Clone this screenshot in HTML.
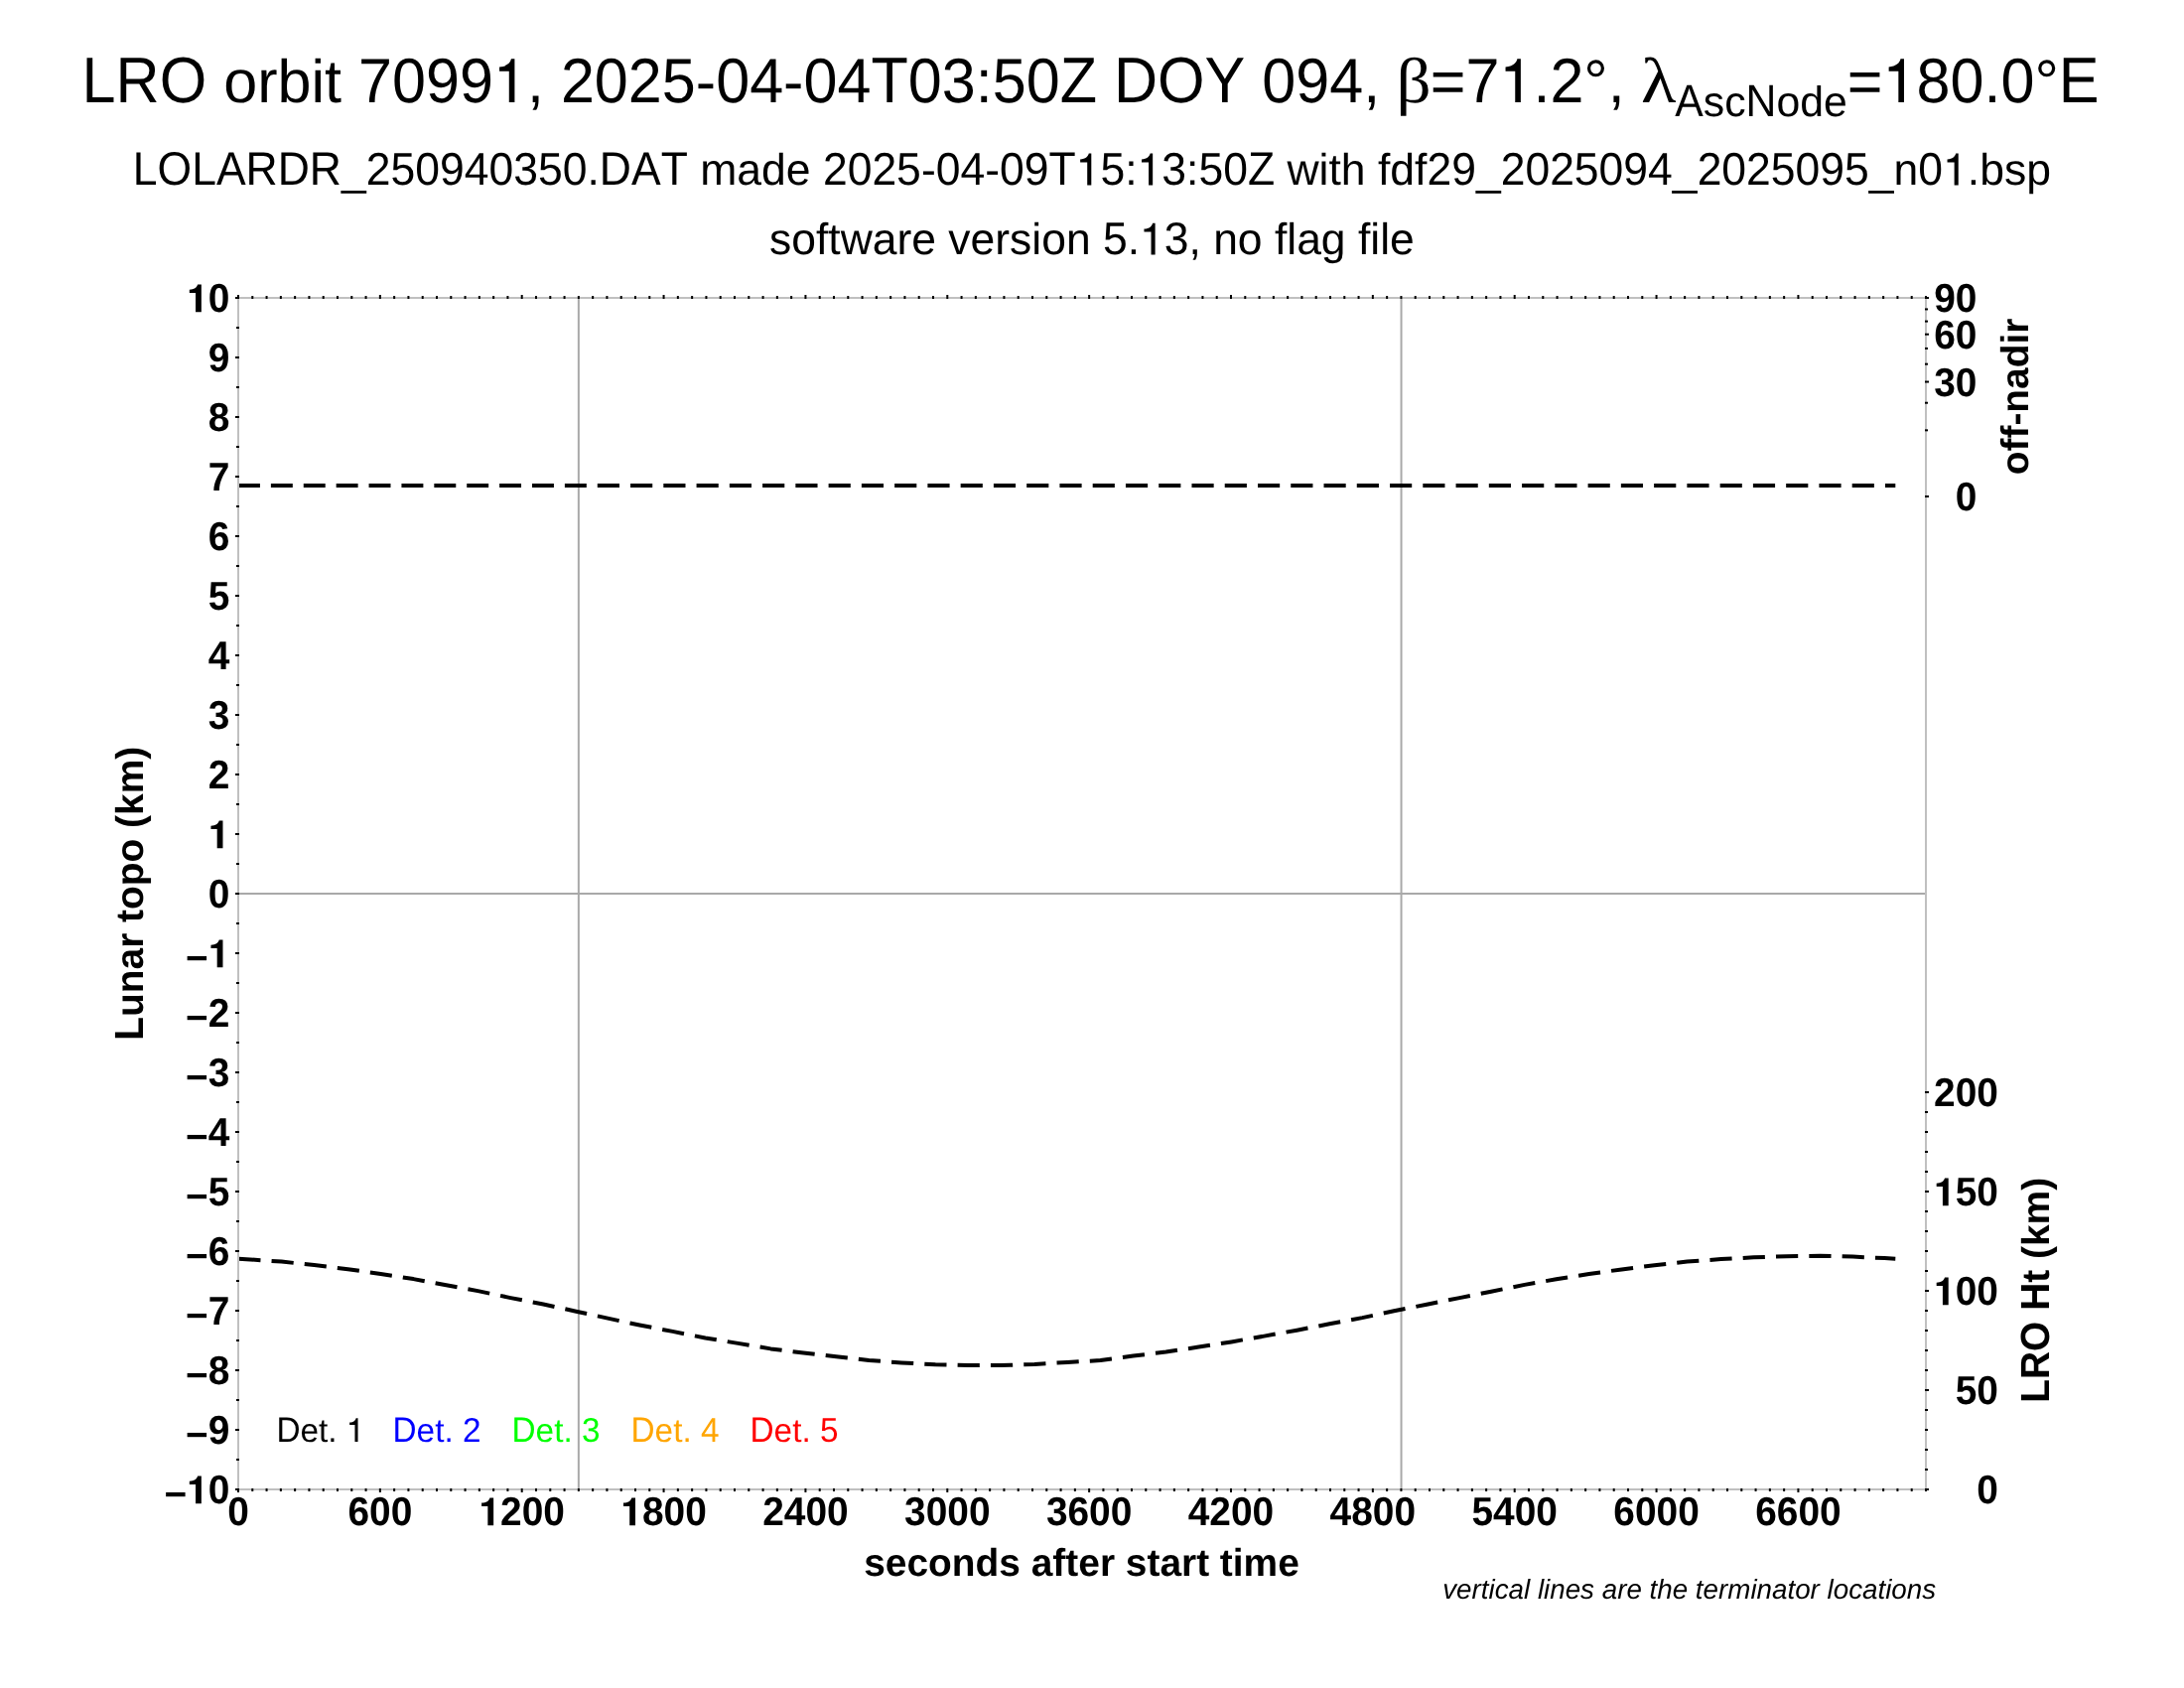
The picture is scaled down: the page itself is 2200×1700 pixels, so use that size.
<!DOCTYPE html>
<html lang="en"><head><meta charset="utf-8"><title>LRO orbit 70991</title>
<style>
html,body{margin:0;padding:0;background:#fff;}
body{width:2200px;height:1700px;overflow:hidden;font-family:"Liberation Sans",sans-serif;}
svg{display:block;position:absolute;left:0;top:0;will-change:transform;}
text{font-family:"Liberation Sans",sans-serif;font-kerning:none;white-space:pre;text-rendering:geometricPrecision;font-variant-ligatures:none;letter-spacing:0;}
.sym{font-family:"Liberation Serif",serif;}
</style></head><body>
<svg width="2200" height="1700" viewBox="0 0 2200 1700">
<rect x="0" y="0" width="2200" height="1700" fill="#fff"/>
<g transform="translate(82.59,103.00) translate(0.00,0)" font-size="61.1"><text transform="translate(0.00,0) scale(1,1.065)">LRO</text><text x="125.63" y="0"> orbit </text><text transform="translate(278.44,0) scale(1,1.035)">7099</text><path transform="translate(414.36,0) scale(0.06110,-0.06110)" d="M259,0 L351,0 L351,715 L294,715 C282,650 222,590 100,583 L100,513 L259,513 Z"/><text x="448.35" y="0">, </text><text transform="translate(482.30,0) scale(1,1.035)">2025</text><text x="618.22" y="0">-</text><text transform="translate(638.57,0) scale(1,1.035)">04</text><text x="706.53" y="0">-</text><text transform="translate(726.88,0) scale(1,1.035)">04</text><text transform="translate(794.84,0) scale(1,1.065)">T</text><text transform="translate(832.16,0) scale(1,1.035)">03</text><text x="900.12" y="0">:</text><text transform="translate(917.10,0) scale(1,1.035)">50</text><text transform="translate(985.06,0) scale(1,1.065)">Z</text><text x="1022.38" y="0"> </text><text transform="translate(1039.36,0) scale(1,1.065)">DOY</text><text x="1171.76" y="0"> </text><text transform="translate(1188.74,0) scale(1,1.035)">094</text><text x="1290.68" y="0">, </text></g>
<text class="sym" font-size="61.1" transform="translate(1406.53,103.0) scale(1.1294,1.0513)">β</text>
<g transform="translate(1440.77,103.00) translate(0.00,0)" font-size="61.1"><text x="0.00" y="0">=</text><text transform="translate(35.68,0) scale(1,1.035)">7</text><path transform="translate(69.66,0) scale(0.06110,-0.06110)" d="M259,0 L351,0 L351,715 L294,715 C282,650 222,590 100,583 L100,513 L259,513 Z"/><text x="103.64" y="0">.</text><text transform="translate(120.62,0) scale(1,1.035)">2</text><text x="154.60" y="0">°, </text></g>
<text class="sym" font-size="61.1" transform="translate(1652.89,103.0) scale(1.1943,1.0582)">λ</text>
<g transform="translate(1687.29,117.00) translate(0.00,0)" font-size="42.769999999999996"><text transform="translate(0.00,0) scale(1,1.065)">A</text><text x="28.53" y="0">sc</text><text transform="translate(71.30,0) scale(1,1.065)">N</text><text x="102.18" y="0">ode</text></g>
<g transform="translate(1860.84,103.00) translate(0.00,0)" font-size="61.1"><text x="0.00" y="0">=</text><path transform="translate(35.68,0) scale(0.06110,-0.06110)" d="M259,0 L351,0 L351,715 L294,715 C282,650 222,590 100,583 L100,513 L259,513 Z"/><text transform="translate(69.66,0) scale(1,1.035)">80</text><text x="137.62" y="0">.</text><text transform="translate(154.60,0) scale(1,1.035)">0</text><text x="188.58" y="0">°</text><text transform="translate(213.01,0) scale(1,1.065)">E</text></g>
<g transform="translate(1099.90,186.40) translate(-966.05,0)" font-size="44.497"><text transform="translate(0.00,0) scale(1,1.065)">LOLARDR</text><text x="210.19" y="0">_</text><text transform="translate(234.93,0) scale(1,1.035)">250940350</text><text x="457.66" y="0">.</text><text transform="translate(470.02,0) scale(1,1.065)">DAT</text><text x="559.02" y="0"> made </text><text transform="translate(695.05,0) scale(1,1.035)">2025</text><text x="794.04" y="0">-</text><text transform="translate(808.85,0) scale(1,1.035)">04</text><text x="858.35" y="0">-</text><text transform="translate(873.17,0) scale(1,1.035)">09</text><text transform="translate(922.66,0) scale(1,1.065)">T</text><path transform="translate(949.84,0) scale(0.04450,-0.04450)" d="M259,0 L351,0 L351,715 L294,715 C282,650 222,590 100,583 L100,513 L259,513 Z"/><text transform="translate(974.59,0) scale(1,1.035)">5</text><text x="999.34" y="0">:</text><path transform="translate(1011.70,0) scale(0.04450,-0.04450)" d="M259,0 L351,0 L351,715 L294,715 C282,650 222,590 100,583 L100,513 L259,513 Z"/><text transform="translate(1036.45,0) scale(1,1.035)">3</text><text x="1061.19" y="0">:</text><text transform="translate(1073.56,0) scale(1,1.035)">50</text><text transform="translate(1123.05,0) scale(1,1.065)">Z</text><text x="1150.23" y="0"> with fdf</text><text transform="translate(1303.56,0) scale(1,1.035)">29</text><text x="1353.05" y="0">_</text><text transform="translate(1377.80,0) scale(1,1.035)">2025094</text><text x="1551.03" y="0">_</text><text transform="translate(1575.78,0) scale(1,1.035)">2025095</text><text x="1749.01" y="0">_n</text><text transform="translate(1798.50,0) scale(1,1.035)">0</text><path transform="translate(1823.25,0) scale(0.04450,-0.04450)" d="M259,0 L351,0 L351,715 L294,715 C282,650 222,590 100,583 L100,513 L259,513 Z"/><text x="1847.99" y="0">.bsp</text></g>
<g transform="translate(1099.90,256.40) translate(-324.84,0)" font-size="44.44"><text x="0.00" y="0">software version </text><text transform="translate(335.90,0) scale(1,1.035)">5</text><text x="360.62" y="0">.</text><path transform="translate(372.97,0) scale(0.04444,-0.04444)" d="M259,0 L351,0 L351,715 L294,715 C282,650 222,590 100,583 L100,513 L259,513 Z"/><text transform="translate(397.68,0) scale(1,1.035)">3</text><text x="422.40" y="0">, no flag file</text></g>
<g transform="translate(322.90,1452.00) translate(-44.46,0)" font-size="33.33" style="fill:#000000"><text transform="translate(0.00,0) scale(1,1.065)">D</text><text x="24.07" y="0">et. </text><path transform="translate(70.39,0) scale(0.03333,-0.03333)" d="M259,0 L351,0 L351,715 L294,715 C282,650 222,590 100,583 L100,513 L259,513 Z"/></g>
<g transform="translate(440.00,1452.00) translate(-44.46,0)" font-size="33.33" style="fill:#0000ff"><text transform="translate(0.00,0) scale(1,1.065)">D</text><text x="24.07" y="0">et. </text><text transform="translate(70.39,0) scale(1,1.035)">2</text></g>
<g transform="translate(560.00,1452.00) translate(-44.46,0)" font-size="33.33" style="fill:#00ff00"><text transform="translate(0.00,0) scale(1,1.065)">D</text><text x="24.07" y="0">et. </text><text transform="translate(70.39,0) scale(1,1.035)">3</text></g>
<g transform="translate(680.00,1452.00) translate(-44.46,0)" font-size="33.33" style="fill:#ffa500"><text transform="translate(0.00,0) scale(1,1.065)">D</text><text x="24.07" y="0">et. </text><text transform="translate(70.39,0) scale(1,1.035)">4</text></g>
<g transform="translate(800.00,1452.00) translate(-44.46,0)" font-size="33.33" style="fill:#ff0000"><text transform="translate(0.00,0) scale(1,1.065)">D</text><text x="24.07" y="0">et. </text><text transform="translate(70.39,0) scale(1,1.035)">5</text></g>
<g stroke="#a9a9a9" stroke-width="2" fill="none">
<line x1="240.0" y1="900" x2="1940.0" y2="900"/>
<line x1="582.86" y1="300.0" x2="582.86" y2="1500.0"/>
<line x1="1411.55" y1="300.0" x2="1411.55" y2="1500.0"/>
</g>
<g stroke="#000" stroke-width="4.0" fill="none" stroke-dasharray="22.22 11.11" stroke-linecap="butt" stroke-linejoin="round">
<path d="M240.3,1267.7 L283.6,1270.6 L316.5,1274.1 L350.5,1278.2 L383.5,1283.0 L416.5,1288.1 L449.5,1294.3 L481.4,1300.1 L514.4,1307.1 L547.3,1313.5 L580.3,1320.7 L613.3,1327.9 L644.2,1334.5 L677.5,1340.9 L710.5,1347.5 L743.5,1352.9 L776.4,1358.4 L809.4,1362.5 L842.4,1366.3 L875.3,1370.0 L908.3,1372.4 L942.3,1374.3 L975.3,1375.1 L1008.2,1375.1 L1042.2,1373.9 L1075.2,1372.0 L1108.5,1370.0 L1141.5,1365.6 L1174.5,1361.5 L1207.5,1356.6 L1240.4,1351.4 L1273.4,1345.6 L1306.4,1339.7 L1339.3,1333.3 L1372.3,1327.1 L1404.2,1320.3 L1437.2,1313.7 L1470.2,1307.1 L1502.1,1300.7 L1535.8,1293.9 L1567.7,1288.3 L1600.7,1283.0 L1633.6,1278.4 L1666.6,1274.3 L1699.6,1270.6 L1733.6,1268.1 L1766.5,1266.3 L1799.5,1265.2 L1833.5,1264.8 L1866.5,1265.6 L1898.4,1267.1 L1909.3,1267.7"/>
</g>
<g stroke="#000" stroke-width="4.0" fill="none" stroke-linecap="butt">
<path d="M240,489.1 L601.8,489.1" stroke-dasharray="21.93 10.96"/>
<path d="M601.8,489.1 L1909.3,489.1" stroke-dasharray="22.17 11.09"/>
</g>
<rect x="240.0" y="300.0" width="1700.0" height="1200.0" fill="none" stroke="#c0c0c0" stroke-width="2"/>
<g stroke="#000" stroke-width="2" fill="none">
<line x1="240.00" y1="1499.0" x2="240.00" y2="1503.0"/>
<line x1="240.00" y1="301.0" x2="240.00" y2="297.0"/>
<line x1="254.29" y1="1499.0" x2="254.29" y2="1502.0"/>
<line x1="254.29" y1="301.0" x2="254.29" y2="298.0"/>
<line x1="268.57" y1="1499.0" x2="268.57" y2="1502.0"/>
<line x1="268.57" y1="301.0" x2="268.57" y2="298.0"/>
<line x1="282.86" y1="1499.0" x2="282.86" y2="1502.0"/>
<line x1="282.86" y1="301.0" x2="282.86" y2="298.0"/>
<line x1="297.14" y1="1499.0" x2="297.14" y2="1502.0"/>
<line x1="297.14" y1="301.0" x2="297.14" y2="298.0"/>
<line x1="311.43" y1="1499.0" x2="311.43" y2="1502.0"/>
<line x1="311.43" y1="301.0" x2="311.43" y2="298.0"/>
<line x1="325.71" y1="1499.0" x2="325.71" y2="1502.0"/>
<line x1="325.71" y1="301.0" x2="325.71" y2="298.0"/>
<line x1="340.00" y1="1499.0" x2="340.00" y2="1502.0"/>
<line x1="340.00" y1="301.0" x2="340.00" y2="298.0"/>
<line x1="354.29" y1="1499.0" x2="354.29" y2="1502.0"/>
<line x1="354.29" y1="301.0" x2="354.29" y2="298.0"/>
<line x1="368.57" y1="1499.0" x2="368.57" y2="1502.0"/>
<line x1="368.57" y1="301.0" x2="368.57" y2="298.0"/>
<line x1="382.86" y1="1499.0" x2="382.86" y2="1503.0"/>
<line x1="382.86" y1="301.0" x2="382.86" y2="297.0"/>
<line x1="397.14" y1="1499.0" x2="397.14" y2="1502.0"/>
<line x1="397.14" y1="301.0" x2="397.14" y2="298.0"/>
<line x1="411.43" y1="1499.0" x2="411.43" y2="1502.0"/>
<line x1="411.43" y1="301.0" x2="411.43" y2="298.0"/>
<line x1="425.71" y1="1499.0" x2="425.71" y2="1502.0"/>
<line x1="425.71" y1="301.0" x2="425.71" y2="298.0"/>
<line x1="440.00" y1="1499.0" x2="440.00" y2="1502.0"/>
<line x1="440.00" y1="301.0" x2="440.00" y2="298.0"/>
<line x1="454.29" y1="1499.0" x2="454.29" y2="1502.0"/>
<line x1="454.29" y1="301.0" x2="454.29" y2="298.0"/>
<line x1="468.57" y1="1499.0" x2="468.57" y2="1502.0"/>
<line x1="468.57" y1="301.0" x2="468.57" y2="298.0"/>
<line x1="482.86" y1="1499.0" x2="482.86" y2="1502.0"/>
<line x1="482.86" y1="301.0" x2="482.86" y2="298.0"/>
<line x1="497.14" y1="1499.0" x2="497.14" y2="1502.0"/>
<line x1="497.14" y1="301.0" x2="497.14" y2="298.0"/>
<line x1="511.43" y1="1499.0" x2="511.43" y2="1502.0"/>
<line x1="511.43" y1="301.0" x2="511.43" y2="298.0"/>
<line x1="525.71" y1="1499.0" x2="525.71" y2="1503.0"/>
<line x1="525.71" y1="301.0" x2="525.71" y2="297.0"/>
<line x1="540.00" y1="1499.0" x2="540.00" y2="1502.0"/>
<line x1="540.00" y1="301.0" x2="540.00" y2="298.0"/>
<line x1="554.29" y1="1499.0" x2="554.29" y2="1502.0"/>
<line x1="554.29" y1="301.0" x2="554.29" y2="298.0"/>
<line x1="568.57" y1="1499.0" x2="568.57" y2="1502.0"/>
<line x1="568.57" y1="301.0" x2="568.57" y2="298.0"/>
<line x1="582.86" y1="1499.0" x2="582.86" y2="1502.0"/>
<line x1="582.86" y1="301.0" x2="582.86" y2="298.0"/>
<line x1="597.14" y1="1499.0" x2="597.14" y2="1502.0"/>
<line x1="597.14" y1="301.0" x2="597.14" y2="298.0"/>
<line x1="611.43" y1="1499.0" x2="611.43" y2="1502.0"/>
<line x1="611.43" y1="301.0" x2="611.43" y2="298.0"/>
<line x1="625.71" y1="1499.0" x2="625.71" y2="1502.0"/>
<line x1="625.71" y1="301.0" x2="625.71" y2="298.0"/>
<line x1="640.00" y1="1499.0" x2="640.00" y2="1502.0"/>
<line x1="640.00" y1="301.0" x2="640.00" y2="298.0"/>
<line x1="654.29" y1="1499.0" x2="654.29" y2="1502.0"/>
<line x1="654.29" y1="301.0" x2="654.29" y2="298.0"/>
<line x1="668.57" y1="1499.0" x2="668.57" y2="1503.0"/>
<line x1="668.57" y1="301.0" x2="668.57" y2="297.0"/>
<line x1="682.86" y1="1499.0" x2="682.86" y2="1502.0"/>
<line x1="682.86" y1="301.0" x2="682.86" y2="298.0"/>
<line x1="697.14" y1="1499.0" x2="697.14" y2="1502.0"/>
<line x1="697.14" y1="301.0" x2="697.14" y2="298.0"/>
<line x1="711.43" y1="1499.0" x2="711.43" y2="1502.0"/>
<line x1="711.43" y1="301.0" x2="711.43" y2="298.0"/>
<line x1="725.71" y1="1499.0" x2="725.71" y2="1502.0"/>
<line x1="725.71" y1="301.0" x2="725.71" y2="298.0"/>
<line x1="740.00" y1="1499.0" x2="740.00" y2="1502.0"/>
<line x1="740.00" y1="301.0" x2="740.00" y2="298.0"/>
<line x1="754.29" y1="1499.0" x2="754.29" y2="1502.0"/>
<line x1="754.29" y1="301.0" x2="754.29" y2="298.0"/>
<line x1="768.57" y1="1499.0" x2="768.57" y2="1502.0"/>
<line x1="768.57" y1="301.0" x2="768.57" y2="298.0"/>
<line x1="782.86" y1="1499.0" x2="782.86" y2="1502.0"/>
<line x1="782.86" y1="301.0" x2="782.86" y2="298.0"/>
<line x1="797.14" y1="1499.0" x2="797.14" y2="1502.0"/>
<line x1="797.14" y1="301.0" x2="797.14" y2="298.0"/>
<line x1="811.43" y1="1499.0" x2="811.43" y2="1503.0"/>
<line x1="811.43" y1="301.0" x2="811.43" y2="297.0"/>
<line x1="825.71" y1="1499.0" x2="825.71" y2="1502.0"/>
<line x1="825.71" y1="301.0" x2="825.71" y2="298.0"/>
<line x1="840.00" y1="1499.0" x2="840.00" y2="1502.0"/>
<line x1="840.00" y1="301.0" x2="840.00" y2="298.0"/>
<line x1="854.29" y1="1499.0" x2="854.29" y2="1502.0"/>
<line x1="854.29" y1="301.0" x2="854.29" y2="298.0"/>
<line x1="868.57" y1="1499.0" x2="868.57" y2="1502.0"/>
<line x1="868.57" y1="301.0" x2="868.57" y2="298.0"/>
<line x1="882.86" y1="1499.0" x2="882.86" y2="1502.0"/>
<line x1="882.86" y1="301.0" x2="882.86" y2="298.0"/>
<line x1="897.14" y1="1499.0" x2="897.14" y2="1502.0"/>
<line x1="897.14" y1="301.0" x2="897.14" y2="298.0"/>
<line x1="911.43" y1="1499.0" x2="911.43" y2="1502.0"/>
<line x1="911.43" y1="301.0" x2="911.43" y2="298.0"/>
<line x1="925.71" y1="1499.0" x2="925.71" y2="1502.0"/>
<line x1="925.71" y1="301.0" x2="925.71" y2="298.0"/>
<line x1="940.00" y1="1499.0" x2="940.00" y2="1502.0"/>
<line x1="940.00" y1="301.0" x2="940.00" y2="298.0"/>
<line x1="954.29" y1="1499.0" x2="954.29" y2="1503.0"/>
<line x1="954.29" y1="301.0" x2="954.29" y2="297.0"/>
<line x1="968.57" y1="1499.0" x2="968.57" y2="1502.0"/>
<line x1="968.57" y1="301.0" x2="968.57" y2="298.0"/>
<line x1="982.86" y1="1499.0" x2="982.86" y2="1502.0"/>
<line x1="982.86" y1="301.0" x2="982.86" y2="298.0"/>
<line x1="997.14" y1="1499.0" x2="997.14" y2="1502.0"/>
<line x1="997.14" y1="301.0" x2="997.14" y2="298.0"/>
<line x1="1011.43" y1="1499.0" x2="1011.43" y2="1502.0"/>
<line x1="1011.43" y1="301.0" x2="1011.43" y2="298.0"/>
<line x1="1025.71" y1="1499.0" x2="1025.71" y2="1502.0"/>
<line x1="1025.71" y1="301.0" x2="1025.71" y2="298.0"/>
<line x1="1040.00" y1="1499.0" x2="1040.00" y2="1502.0"/>
<line x1="1040.00" y1="301.0" x2="1040.00" y2="298.0"/>
<line x1="1054.29" y1="1499.0" x2="1054.29" y2="1502.0"/>
<line x1="1054.29" y1="301.0" x2="1054.29" y2="298.0"/>
<line x1="1068.57" y1="1499.0" x2="1068.57" y2="1502.0"/>
<line x1="1068.57" y1="301.0" x2="1068.57" y2="298.0"/>
<line x1="1082.86" y1="1499.0" x2="1082.86" y2="1502.0"/>
<line x1="1082.86" y1="301.0" x2="1082.86" y2="298.0"/>
<line x1="1097.14" y1="1499.0" x2="1097.14" y2="1503.0"/>
<line x1="1097.14" y1="301.0" x2="1097.14" y2="297.0"/>
<line x1="1111.43" y1="1499.0" x2="1111.43" y2="1502.0"/>
<line x1="1111.43" y1="301.0" x2="1111.43" y2="298.0"/>
<line x1="1125.71" y1="1499.0" x2="1125.71" y2="1502.0"/>
<line x1="1125.71" y1="301.0" x2="1125.71" y2="298.0"/>
<line x1="1140.00" y1="1499.0" x2="1140.00" y2="1502.0"/>
<line x1="1140.00" y1="301.0" x2="1140.00" y2="298.0"/>
<line x1="1154.29" y1="1499.0" x2="1154.29" y2="1502.0"/>
<line x1="1154.29" y1="301.0" x2="1154.29" y2="298.0"/>
<line x1="1168.57" y1="1499.0" x2="1168.57" y2="1502.0"/>
<line x1="1168.57" y1="301.0" x2="1168.57" y2="298.0"/>
<line x1="1182.86" y1="1499.0" x2="1182.86" y2="1502.0"/>
<line x1="1182.86" y1="301.0" x2="1182.86" y2="298.0"/>
<line x1="1197.14" y1="1499.0" x2="1197.14" y2="1502.0"/>
<line x1="1197.14" y1="301.0" x2="1197.14" y2="298.0"/>
<line x1="1211.43" y1="1499.0" x2="1211.43" y2="1502.0"/>
<line x1="1211.43" y1="301.0" x2="1211.43" y2="298.0"/>
<line x1="1225.71" y1="1499.0" x2="1225.71" y2="1502.0"/>
<line x1="1225.71" y1="301.0" x2="1225.71" y2="298.0"/>
<line x1="1240.00" y1="1499.0" x2="1240.00" y2="1503.0"/>
<line x1="1240.00" y1="301.0" x2="1240.00" y2="297.0"/>
<line x1="1254.29" y1="1499.0" x2="1254.29" y2="1502.0"/>
<line x1="1254.29" y1="301.0" x2="1254.29" y2="298.0"/>
<line x1="1268.57" y1="1499.0" x2="1268.57" y2="1502.0"/>
<line x1="1268.57" y1="301.0" x2="1268.57" y2="298.0"/>
<line x1="1282.86" y1="1499.0" x2="1282.86" y2="1502.0"/>
<line x1="1282.86" y1="301.0" x2="1282.86" y2="298.0"/>
<line x1="1297.14" y1="1499.0" x2="1297.14" y2="1502.0"/>
<line x1="1297.14" y1="301.0" x2="1297.14" y2="298.0"/>
<line x1="1311.43" y1="1499.0" x2="1311.43" y2="1502.0"/>
<line x1="1311.43" y1="301.0" x2="1311.43" y2="298.0"/>
<line x1="1325.71" y1="1499.0" x2="1325.71" y2="1502.0"/>
<line x1="1325.71" y1="301.0" x2="1325.71" y2="298.0"/>
<line x1="1340.00" y1="1499.0" x2="1340.00" y2="1502.0"/>
<line x1="1340.00" y1="301.0" x2="1340.00" y2="298.0"/>
<line x1="1354.29" y1="1499.0" x2="1354.29" y2="1502.0"/>
<line x1="1354.29" y1="301.0" x2="1354.29" y2="298.0"/>
<line x1="1368.57" y1="1499.0" x2="1368.57" y2="1502.0"/>
<line x1="1368.57" y1="301.0" x2="1368.57" y2="298.0"/>
<line x1="1382.86" y1="1499.0" x2="1382.86" y2="1503.0"/>
<line x1="1382.86" y1="301.0" x2="1382.86" y2="297.0"/>
<line x1="1397.14" y1="1499.0" x2="1397.14" y2="1502.0"/>
<line x1="1397.14" y1="301.0" x2="1397.14" y2="298.0"/>
<line x1="1411.43" y1="1499.0" x2="1411.43" y2="1502.0"/>
<line x1="1411.43" y1="301.0" x2="1411.43" y2="298.0"/>
<line x1="1425.71" y1="1499.0" x2="1425.71" y2="1502.0"/>
<line x1="1425.71" y1="301.0" x2="1425.71" y2="298.0"/>
<line x1="1440.00" y1="1499.0" x2="1440.00" y2="1502.0"/>
<line x1="1440.00" y1="301.0" x2="1440.00" y2="298.0"/>
<line x1="1454.29" y1="1499.0" x2="1454.29" y2="1502.0"/>
<line x1="1454.29" y1="301.0" x2="1454.29" y2="298.0"/>
<line x1="1468.57" y1="1499.0" x2="1468.57" y2="1502.0"/>
<line x1="1468.57" y1="301.0" x2="1468.57" y2="298.0"/>
<line x1="1482.86" y1="1499.0" x2="1482.86" y2="1502.0"/>
<line x1="1482.86" y1="301.0" x2="1482.86" y2="298.0"/>
<line x1="1497.14" y1="1499.0" x2="1497.14" y2="1502.0"/>
<line x1="1497.14" y1="301.0" x2="1497.14" y2="298.0"/>
<line x1="1511.43" y1="1499.0" x2="1511.43" y2="1502.0"/>
<line x1="1511.43" y1="301.0" x2="1511.43" y2="298.0"/>
<line x1="1525.71" y1="1499.0" x2="1525.71" y2="1503.0"/>
<line x1="1525.71" y1="301.0" x2="1525.71" y2="297.0"/>
<line x1="1540.00" y1="1499.0" x2="1540.00" y2="1502.0"/>
<line x1="1540.00" y1="301.0" x2="1540.00" y2="298.0"/>
<line x1="1554.29" y1="1499.0" x2="1554.29" y2="1502.0"/>
<line x1="1554.29" y1="301.0" x2="1554.29" y2="298.0"/>
<line x1="1568.57" y1="1499.0" x2="1568.57" y2="1502.0"/>
<line x1="1568.57" y1="301.0" x2="1568.57" y2="298.0"/>
<line x1="1582.86" y1="1499.0" x2="1582.86" y2="1502.0"/>
<line x1="1582.86" y1="301.0" x2="1582.86" y2="298.0"/>
<line x1="1597.14" y1="1499.0" x2="1597.14" y2="1502.0"/>
<line x1="1597.14" y1="301.0" x2="1597.14" y2="298.0"/>
<line x1="1611.43" y1="1499.0" x2="1611.43" y2="1502.0"/>
<line x1="1611.43" y1="301.0" x2="1611.43" y2="298.0"/>
<line x1="1625.71" y1="1499.0" x2="1625.71" y2="1502.0"/>
<line x1="1625.71" y1="301.0" x2="1625.71" y2="298.0"/>
<line x1="1640.00" y1="1499.0" x2="1640.00" y2="1502.0"/>
<line x1="1640.00" y1="301.0" x2="1640.00" y2="298.0"/>
<line x1="1654.29" y1="1499.0" x2="1654.29" y2="1502.0"/>
<line x1="1654.29" y1="301.0" x2="1654.29" y2="298.0"/>
<line x1="1668.57" y1="1499.0" x2="1668.57" y2="1503.0"/>
<line x1="1668.57" y1="301.0" x2="1668.57" y2="297.0"/>
<line x1="1682.86" y1="1499.0" x2="1682.86" y2="1502.0"/>
<line x1="1682.86" y1="301.0" x2="1682.86" y2="298.0"/>
<line x1="1697.14" y1="1499.0" x2="1697.14" y2="1502.0"/>
<line x1="1697.14" y1="301.0" x2="1697.14" y2="298.0"/>
<line x1="1711.43" y1="1499.0" x2="1711.43" y2="1502.0"/>
<line x1="1711.43" y1="301.0" x2="1711.43" y2="298.0"/>
<line x1="1725.71" y1="1499.0" x2="1725.71" y2="1502.0"/>
<line x1="1725.71" y1="301.0" x2="1725.71" y2="298.0"/>
<line x1="1740.00" y1="1499.0" x2="1740.00" y2="1502.0"/>
<line x1="1740.00" y1="301.0" x2="1740.00" y2="298.0"/>
<line x1="1754.29" y1="1499.0" x2="1754.29" y2="1502.0"/>
<line x1="1754.29" y1="301.0" x2="1754.29" y2="298.0"/>
<line x1="1768.57" y1="1499.0" x2="1768.57" y2="1502.0"/>
<line x1="1768.57" y1="301.0" x2="1768.57" y2="298.0"/>
<line x1="1782.86" y1="1499.0" x2="1782.86" y2="1502.0"/>
<line x1="1782.86" y1="301.0" x2="1782.86" y2="298.0"/>
<line x1="1797.14" y1="1499.0" x2="1797.14" y2="1502.0"/>
<line x1="1797.14" y1="301.0" x2="1797.14" y2="298.0"/>
<line x1="1811.43" y1="1499.0" x2="1811.43" y2="1503.0"/>
<line x1="1811.43" y1="301.0" x2="1811.43" y2="297.0"/>
<line x1="1825.71" y1="1499.0" x2="1825.71" y2="1502.0"/>
<line x1="1825.71" y1="301.0" x2="1825.71" y2="298.0"/>
<line x1="1840.00" y1="1499.0" x2="1840.00" y2="1502.0"/>
<line x1="1840.00" y1="301.0" x2="1840.00" y2="298.0"/>
<line x1="1854.29" y1="1499.0" x2="1854.29" y2="1502.0"/>
<line x1="1854.29" y1="301.0" x2="1854.29" y2="298.0"/>
<line x1="1868.57" y1="1499.0" x2="1868.57" y2="1502.0"/>
<line x1="1868.57" y1="301.0" x2="1868.57" y2="298.0"/>
<line x1="1882.86" y1="1499.0" x2="1882.86" y2="1502.0"/>
<line x1="1882.86" y1="301.0" x2="1882.86" y2="298.0"/>
<line x1="1897.14" y1="1499.0" x2="1897.14" y2="1502.0"/>
<line x1="1897.14" y1="301.0" x2="1897.14" y2="298.0"/>
<line x1="1911.43" y1="1499.0" x2="1911.43" y2="1502.0"/>
<line x1="1911.43" y1="301.0" x2="1911.43" y2="298.0"/>
<line x1="1925.71" y1="1499.0" x2="1925.71" y2="1502.0"/>
<line x1="1925.71" y1="301.0" x2="1925.71" y2="298.0"/>
<line x1="1940.00" y1="1499.0" x2="1940.00" y2="1502.0"/>
<line x1="1940.00" y1="301.0" x2="1940.00" y2="298.0"/>
<line x1="241.0" y1="1500.00" x2="237.0" y2="1500.00"/>
<line x1="241.0" y1="1470.00" x2="238.0" y2="1470.00"/>
<line x1="241.0" y1="1440.00" x2="237.0" y2="1440.00"/>
<line x1="241.0" y1="1410.00" x2="238.0" y2="1410.00"/>
<line x1="241.0" y1="1380.00" x2="237.0" y2="1380.00"/>
<line x1="241.0" y1="1350.00" x2="238.0" y2="1350.00"/>
<line x1="241.0" y1="1320.00" x2="237.0" y2="1320.00"/>
<line x1="241.0" y1="1290.00" x2="238.0" y2="1290.00"/>
<line x1="241.0" y1="1260.00" x2="237.0" y2="1260.00"/>
<line x1="241.0" y1="1230.00" x2="238.0" y2="1230.00"/>
<line x1="241.0" y1="1200.00" x2="237.0" y2="1200.00"/>
<line x1="241.0" y1="1170.00" x2="238.0" y2="1170.00"/>
<line x1="241.0" y1="1140.00" x2="237.0" y2="1140.00"/>
<line x1="241.0" y1="1110.00" x2="238.0" y2="1110.00"/>
<line x1="241.0" y1="1080.00" x2="237.0" y2="1080.00"/>
<line x1="241.0" y1="1050.00" x2="238.0" y2="1050.00"/>
<line x1="241.0" y1="1020.00" x2="237.0" y2="1020.00"/>
<line x1="241.0" y1="990.00" x2="238.0" y2="990.00"/>
<line x1="241.0" y1="960.00" x2="237.0" y2="960.00"/>
<line x1="241.0" y1="930.00" x2="238.0" y2="930.00"/>
<line x1="241.0" y1="900.00" x2="237.0" y2="900.00"/>
<line x1="241.0" y1="870.00" x2="238.0" y2="870.00"/>
<line x1="241.0" y1="840.00" x2="237.0" y2="840.00"/>
<line x1="241.0" y1="810.00" x2="238.0" y2="810.00"/>
<line x1="241.0" y1="780.00" x2="237.0" y2="780.00"/>
<line x1="241.0" y1="750.00" x2="238.0" y2="750.00"/>
<line x1="241.0" y1="720.00" x2="237.0" y2="720.00"/>
<line x1="241.0" y1="690.00" x2="238.0" y2="690.00"/>
<line x1="241.0" y1="660.00" x2="237.0" y2="660.00"/>
<line x1="241.0" y1="630.00" x2="238.0" y2="630.00"/>
<line x1="241.0" y1="600.00" x2="237.0" y2="600.00"/>
<line x1="241.0" y1="570.00" x2="238.0" y2="570.00"/>
<line x1="241.0" y1="540.00" x2="237.0" y2="540.00"/>
<line x1="241.0" y1="510.00" x2="238.0" y2="510.00"/>
<line x1="241.0" y1="480.00" x2="237.0" y2="480.00"/>
<line x1="241.0" y1="450.00" x2="238.0" y2="450.00"/>
<line x1="241.0" y1="420.00" x2="237.0" y2="420.00"/>
<line x1="241.0" y1="390.00" x2="238.0" y2="390.00"/>
<line x1="241.0" y1="360.00" x2="237.0" y2="360.00"/>
<line x1="241.0" y1="330.00" x2="238.0" y2="330.00"/>
<line x1="241.0" y1="300.00" x2="237.0" y2="300.00"/>
<line x1="1939.0" y1="500.00" x2="1943.0" y2="500.00"/>
<line x1="1939.0" y1="433.33" x2="1942.0" y2="433.33"/>
<line x1="1939.0" y1="405.72" x2="1942.0" y2="405.72"/>
<line x1="1939.0" y1="384.53" x2="1943.0" y2="384.53"/>
<line x1="1939.0" y1="366.67" x2="1942.0" y2="366.67"/>
<line x1="1939.0" y1="350.93" x2="1942.0" y2="350.93"/>
<line x1="1939.0" y1="336.70" x2="1943.0" y2="336.70"/>
<line x1="1939.0" y1="323.62" x2="1942.0" y2="323.62"/>
<line x1="1939.0" y1="311.44" x2="1942.0" y2="311.44"/>
<line x1="1939.0" y1="300.00" x2="1943.0" y2="300.00"/>
<line x1="1939.0" y1="1500.00" x2="1943.0" y2="1500.00"/>
<line x1="1939.0" y1="1480.00" x2="1942.0" y2="1480.00"/>
<line x1="1939.0" y1="1460.00" x2="1942.0" y2="1460.00"/>
<line x1="1939.0" y1="1440.00" x2="1942.0" y2="1440.00"/>
<line x1="1939.0" y1="1420.00" x2="1942.0" y2="1420.00"/>
<line x1="1939.0" y1="1400.00" x2="1943.0" y2="1400.00"/>
<line x1="1939.0" y1="1380.00" x2="1942.0" y2="1380.00"/>
<line x1="1939.0" y1="1360.00" x2="1942.0" y2="1360.00"/>
<line x1="1939.0" y1="1340.00" x2="1942.0" y2="1340.00"/>
<line x1="1939.0" y1="1320.00" x2="1942.0" y2="1320.00"/>
<line x1="1939.0" y1="1300.00" x2="1943.0" y2="1300.00"/>
<line x1="1939.0" y1="1280.00" x2="1942.0" y2="1280.00"/>
<line x1="1939.0" y1="1260.00" x2="1942.0" y2="1260.00"/>
<line x1="1939.0" y1="1240.00" x2="1942.0" y2="1240.00"/>
<line x1="1939.0" y1="1220.00" x2="1942.0" y2="1220.00"/>
<line x1="1939.0" y1="1200.00" x2="1943.0" y2="1200.00"/>
<line x1="1939.0" y1="1180.00" x2="1942.0" y2="1180.00"/>
<line x1="1939.0" y1="1160.00" x2="1942.0" y2="1160.00"/>
<line x1="1939.0" y1="1140.00" x2="1942.0" y2="1140.00"/>
<line x1="1939.0" y1="1120.00" x2="1942.0" y2="1120.00"/>
<line x1="1939.0" y1="1100.00" x2="1943.0" y2="1100.00"/>
</g>
<g transform="translate(240.00,1536.20) translate(-10.81,0)" font-size="38.89" font-weight="bold"><text transform="translate(0.00,0) scale(1,1.04)">0</text></g>
<g transform="translate(382.86,1536.20) translate(-32.44,0)" font-size="38.89" font-weight="bold"><text transform="translate(0.00,0) scale(1,1.04)">600</text></g>
<g transform="translate(525.71,1536.20) translate(-43.26,0)" font-size="38.89" font-weight="bold"><path transform="translate(0.00,0) scale(0.03889,-0.03889)" d="M229,0 L378,0 L378,712 L283,712 C262,632 190,583 69,583 L69,495 L229,495 Z"/><text transform="translate(21.63,0) scale(1,1.04)">200</text></g>
<g transform="translate(668.57,1536.20) translate(-43.26,0)" font-size="38.89" font-weight="bold"><path transform="translate(0.00,0) scale(0.03889,-0.03889)" d="M229,0 L378,0 L378,712 L283,712 C262,632 190,583 69,583 L69,495 L229,495 Z"/><text transform="translate(21.63,0) scale(1,1.04)">800</text></g>
<g transform="translate(811.43,1536.20) translate(-43.26,0)" font-size="38.89" font-weight="bold"><text transform="translate(0.00,0) scale(1,1.04)">2400</text></g>
<g transform="translate(954.29,1536.20) translate(-43.26,0)" font-size="38.89" font-weight="bold"><text transform="translate(0.00,0) scale(1,1.04)">3000</text></g>
<g transform="translate(1097.14,1536.20) translate(-43.26,0)" font-size="38.89" font-weight="bold"><text transform="translate(0.00,0) scale(1,1.04)">3600</text></g>
<g transform="translate(1240.00,1536.20) translate(-43.26,0)" font-size="38.89" font-weight="bold"><text transform="translate(0.00,0) scale(1,1.04)">4200</text></g>
<g transform="translate(1382.86,1536.20) translate(-43.26,0)" font-size="38.89" font-weight="bold"><text transform="translate(0.00,0) scale(1,1.04)">4800</text></g>
<g transform="translate(1525.71,1536.20) translate(-43.26,0)" font-size="38.89" font-weight="bold"><text transform="translate(0.00,0) scale(1,1.04)">5400</text></g>
<g transform="translate(1668.57,1536.20) translate(-43.26,0)" font-size="38.89" font-weight="bold"><text transform="translate(0.00,0) scale(1,1.04)">6000</text></g>
<g transform="translate(1811.43,1536.20) translate(-43.26,0)" font-size="38.89" font-weight="bold"><text transform="translate(0.00,0) scale(1,1.04)">6600</text></g>
<g transform="translate(231.40,1514.30) translate(-65.97,0)" font-size="38.89" font-weight="bold"><text x="0.00" y="3.89">−</text><path transform="translate(22.71,0) scale(0.03889,-0.03889)" d="M229,0 L378,0 L378,712 L283,712 C262,632 190,583 69,583 L69,495 L229,495 Z"/><text transform="translate(44.34,0) scale(1,1.04)">0</text></g>
<g transform="translate(231.40,1454.30) translate(-44.34,0)" font-size="38.89" font-weight="bold"><text x="0.00" y="3.89">−</text><text transform="translate(22.71,0) scale(1,1.04)">9</text></g>
<g transform="translate(231.40,1394.30) translate(-44.34,0)" font-size="38.89" font-weight="bold"><text x="0.00" y="3.89">−</text><text transform="translate(22.71,0) scale(1,1.04)">8</text></g>
<g transform="translate(231.40,1334.30) translate(-44.34,0)" font-size="38.89" font-weight="bold"><text x="0.00" y="3.89">−</text><text transform="translate(22.71,0) scale(1,1.04)">7</text></g>
<g transform="translate(231.40,1274.30) translate(-44.34,0)" font-size="38.89" font-weight="bold"><text x="0.00" y="3.89">−</text><text transform="translate(22.71,0) scale(1,1.04)">6</text></g>
<g transform="translate(231.40,1214.30) translate(-44.34,0)" font-size="38.89" font-weight="bold"><text x="0.00" y="3.89">−</text><text transform="translate(22.71,0) scale(1,1.04)">5</text></g>
<g transform="translate(231.40,1154.30) translate(-44.34,0)" font-size="38.89" font-weight="bold"><text x="0.00" y="3.89">−</text><text transform="translate(22.71,0) scale(1,1.04)">4</text></g>
<g transform="translate(231.40,1094.30) translate(-44.34,0)" font-size="38.89" font-weight="bold"><text x="0.00" y="3.89">−</text><text transform="translate(22.71,0) scale(1,1.04)">3</text></g>
<g transform="translate(231.40,1034.30) translate(-44.34,0)" font-size="38.89" font-weight="bold"><text x="0.00" y="3.89">−</text><text transform="translate(22.71,0) scale(1,1.04)">2</text></g>
<g transform="translate(231.40,974.30) translate(-44.34,0)" font-size="38.89" font-weight="bold"><text x="0.00" y="3.89">−</text><path transform="translate(22.71,0) scale(0.03889,-0.03889)" d="M229,0 L378,0 L378,712 L283,712 C262,632 190,583 69,583 L69,495 L229,495 Z"/></g>
<g transform="translate(231.40,914.30) translate(-21.63,0)" font-size="38.89" font-weight="bold"><text transform="translate(0.00,0) scale(1,1.04)">0</text></g>
<g transform="translate(231.40,854.30) translate(-21.63,0)" font-size="38.89" font-weight="bold"><path transform="translate(0.00,0) scale(0.03889,-0.03889)" d="M229,0 L378,0 L378,712 L283,712 C262,632 190,583 69,583 L69,495 L229,495 Z"/></g>
<g transform="translate(231.40,794.30) translate(-21.63,0)" font-size="38.89" font-weight="bold"><text transform="translate(0.00,0) scale(1,1.04)">2</text></g>
<g transform="translate(231.40,734.30) translate(-21.63,0)" font-size="38.89" font-weight="bold"><text transform="translate(0.00,0) scale(1,1.04)">3</text></g>
<g transform="translate(231.40,674.30) translate(-21.63,0)" font-size="38.89" font-weight="bold"><text transform="translate(0.00,0) scale(1,1.04)">4</text></g>
<g transform="translate(231.40,614.30) translate(-21.63,0)" font-size="38.89" font-weight="bold"><text transform="translate(0.00,0) scale(1,1.04)">5</text></g>
<g transform="translate(231.40,554.30) translate(-21.63,0)" font-size="38.89" font-weight="bold"><text transform="translate(0.00,0) scale(1,1.04)">6</text></g>
<g transform="translate(231.40,494.30) translate(-21.63,0)" font-size="38.89" font-weight="bold"><text transform="translate(0.00,0) scale(1,1.04)">7</text></g>
<g transform="translate(231.40,434.30) translate(-21.63,0)" font-size="38.89" font-weight="bold"><text transform="translate(0.00,0) scale(1,1.04)">8</text></g>
<g transform="translate(231.40,374.30) translate(-21.63,0)" font-size="38.89" font-weight="bold"><text transform="translate(0.00,0) scale(1,1.04)">9</text></g>
<g transform="translate(231.40,314.30) translate(-43.26,0)" font-size="38.89" font-weight="bold"><path transform="translate(0.00,0) scale(0.03889,-0.03889)" d="M229,0 L378,0 L378,712 L283,712 C262,632 190,583 69,583 L69,495 L229,495 Z"/><text transform="translate(21.63,0) scale(1,1.04)">0</text></g>
<g transform="translate(1991.40,514.30) translate(-21.63,0)" font-size="38.89" font-weight="bold"><text transform="translate(0.00,0) scale(1,1.04)">0</text></g>
<g transform="translate(1991.40,398.83) translate(-43.26,0)" font-size="38.89" font-weight="bold"><text transform="translate(0.00,0) scale(1,1.04)">30</text></g>
<g transform="translate(1991.40,351.00) translate(-43.26,0)" font-size="38.89" font-weight="bold"><text transform="translate(0.00,0) scale(1,1.04)">60</text></g>
<g transform="translate(1991.40,314.30) translate(-43.26,0)" font-size="38.89" font-weight="bold"><text transform="translate(0.00,0) scale(1,1.04)">90</text></g>
<g transform="translate(2012.90,1514.30) translate(-21.63,0)" font-size="38.89" font-weight="bold"><text transform="translate(0.00,0) scale(1,1.04)">0</text></g>
<g transform="translate(2012.90,1414.30) translate(-43.26,0)" font-size="38.89" font-weight="bold"><text transform="translate(0.00,0) scale(1,1.04)">50</text></g>
<g transform="translate(2012.90,1314.30) translate(-64.89,0)" font-size="38.89" font-weight="bold"><path transform="translate(0.00,0) scale(0.03889,-0.03889)" d="M229,0 L378,0 L378,712 L283,712 C262,632 190,583 69,583 L69,495 L229,495 Z"/><text transform="translate(21.63,0) scale(1,1.04)">00</text></g>
<g transform="translate(2012.90,1214.30) translate(-64.89,0)" font-size="38.89" font-weight="bold"><path transform="translate(0.00,0) scale(0.03889,-0.03889)" d="M229,0 L378,0 L378,712 L283,712 C262,632 190,583 69,583 L69,495 L229,495 Z"/><text transform="translate(21.63,0) scale(1,1.04)">50</text></g>
<g transform="translate(2012.90,1114.30) translate(-64.89,0)" font-size="38.89" font-weight="bold"><text transform="translate(0.00,0) scale(1,1.04)">200</text></g>
<g transform="translate(1089.60,1587.40) translate(-219.37,0)" font-size="38.89" font-weight="bold"><text x="0.00" y="0">seconds after start time</text></g>
<g transform="translate(144.00,899.70) rotate(-90) translate(-147.98,0)" font-size="38.89" font-weight="bold"><text transform="translate(0.00,0) scale(1,1.05)">L</text><text x="23.76" y="0">unar topo (km)</text></g>
<g transform="translate(2042.60,399.40) rotate(-90) translate(-78.84,0)" font-size="38.89" font-weight="bold"><text x="0.00" y="0">off-nadir</text></g>
<g transform="translate(2064.40,1299.30) rotate(-90) translate(-113.42,0)" font-size="38.89" font-weight="bold"><text transform="translate(0.00,0) scale(1,1.05)">LRO</text><text x="82.09" y="0"> </text><text transform="translate(92.90,0) scale(1,1.05)">H</text><text x="120.98" y="0">t (km)</text></g>
<g transform="translate(1950.40,1610.30) translate(-497.18,0)" font-size="27.78" font-style="italic"><text x="0.00" y="0">vertical lines are the terminator locations</text></g>
</svg></body></html>
